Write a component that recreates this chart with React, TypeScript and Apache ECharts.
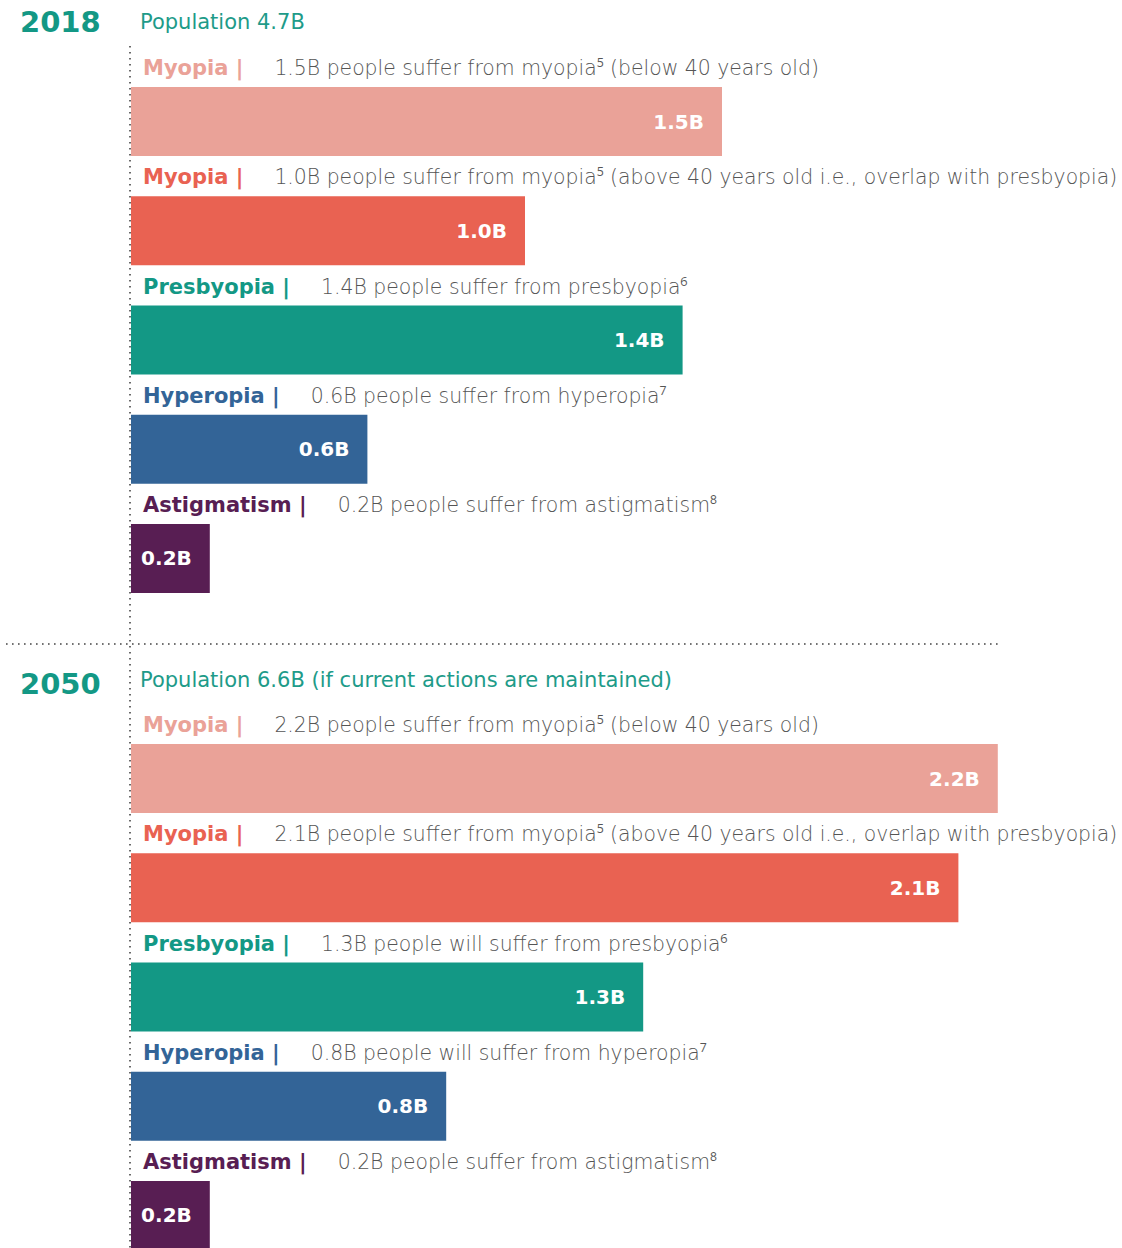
import React, { useEffect, useRef } from "react";
import * as echarts from "echarts";

const categories = ["Myopia", "Myopia", "Presbyopia", "Hyperopia", "Astigmatism"];
const colors = ["#EAA298", "#E96252", "#139885", "#336497", "#581E53"];
const values2018 = [1.5, 1.0, 1.4, 0.6, 0.2];
const values2050 = [2.2, 2.1, 1.3, 0.8, 0.2];
const valueLabels2018 = ["1.5B", "1.0B", "1.4B", "0.6B", "0.2B"];
const valueLabels2050 = ["2.2B", "2.1B", "1.3B", "0.8B", "0.2B"];
const desc2018 = [
  "1.5B people suffer from myopia\u2075 (below 40 years old)",
  "1.0B people suffer from myopia\u2075 (above 40 years old i.e., overlap with presbyopia)",
  "1.4B people suffer from presbyopia\u2076",
  "0.6B people suffer from hyperopia\u2077",
  "0.2B people suffer from astigmatism\u2078",
];
const desc2050 = [
  "2.2B people suffer from myopia\u2075 (below 40 years old)",
  "2.1B people suffer from myopia\u2075 (above 40 years old i.e., overlap with presbyopia)",
  "1.3B people will suffer from presbyopia\u2076",
  "0.8B people will suffer from hyperopia\u2077",
  "0.2B people suffer from astigmatism\u2078",
];
const years = ["2018", "2050"];
const populations = ["Population 4.7B", "Population 6.6B (if current actions are maintained)"];

const FONT = "'DejaVu Sans', 'Noto Sans', sans-serif";

function barSeries(gridIdx: number, values: number[], labels: string[]) {
  return {
    type: "bar",
    xAxisIndex: gridIdx,
    yAxisIndex: gridIdx,
    barWidth: 69,
    barGap: "-100%",
    silent: true,
    data: values.map((v, i) => ({
      value: v,
      itemStyle: { color: colors[i] },
      label: {
        show: true,
        position: "insideRight",
        distance: 18,
        formatter: labels[i],
        color: "#ffffff",
        fontFamily: FONT,
        fontWeight: "bold",
        fontSize: 20,
      },
    })),
  };
}

function headerSeries(gridIdx: number, values: number[], descs: string[]) {
  return {
    type: "bar",
    xAxisIndex: gridIdx,
    yAxisIndex: gridIdx,
    barWidth: 69,
    barGap: "-100%",
    silent: true,
    z: 3,
    data: values.map((v, i) => ({
      value: v,
      itemStyle: { color: "rgba(0,0,0,0)" },
      label: {
        show: true,
        position: [12, -19],
        align: "left",
        verticalAlign: "middle",
        formatter: `{h|${categories[i]} |}{d|${descs[i]}}`,
        rich: {
          h: {
            color: colors[i],
            fontFamily: FONT,
            fontWeight: "bold",
            fontSize: 21,
            padding: [0, 31, 0, 0],
          },
          d: {
            color: "#555555",
            fontFamily: FONT,
            fontWeight: 300,
            fontSize: 20.4,
          },
        },
      },
    })),
  };
}

export default function App() {
  const ref = useRef<HTMLDivElement>(null);
  useEffect(() => {
    if (!ref.current) return;
    const chart = echarts.init(ref.current, null, { renderer: "svg" });
    const yAxisBase = {
      type: "category",
      data: categories,
      inverse: true,
      axisLine: { show: false },
      axisTick: { show: false },
      axisLabel: { show: false },
    };
    const xAxisBase = {
      type: "value",
      min: 0,
      max: 2.5,
      show: false,
    };
    const dotted = { stroke: "#444", lineWidth: 1.6, lineDash: [1.6, 4.4] };
    chart.setOption({
      animation: false,
      grid: [
        { left: 131, top: 67, width: 985, height: 546, outerBoundsMode: "none" },
        { left: 131, top: 724, width: 985, height: 546, outerBoundsMode: "none" },
      ],
      xAxis: [
        { ...xAxisBase, gridIndex: 0 },
        { ...xAxisBase, gridIndex: 1 },
      ],
      yAxis: [
        { ...yAxisBase, gridIndex: 0 },
        { ...yAxisBase, gridIndex: 1 },
      ],
      series: [
        barSeries(0, values2018, valueLabels2018),
        headerSeries(0, values2018, desc2018),
        barSeries(1, values2050, valueLabels2050),
        headerSeries(1, values2050, desc2050),
      ],
      graphic: [
        { type: "line", shape: { x1: 130, y1: 46, x2: 130, y2: 1248 }, style: dotted, z: 10 },
        { type: "line", shape: { x1: 6, y1: 644, x2: 1002, y2: 644 }, style: dotted, z: 10 },
        {
          type: "text", x: 20, y: 22,
          style: { text: years[0], fill: "#139885", font: `bold 29px ${FONT}`, verticalAlign: "middle" },
        },
        {
          type: "text", x: 140, y: 22,
          style: { text: populations[0], fill: "#1E9B89", font: `21px ${FONT}`, verticalAlign: "middle" },
        },
        {
          type: "text", x: 20, y: 684,
          style: { text: years[1], fill: "#139885", font: `bold 29px ${FONT}`, verticalAlign: "middle" },
        },
        {
          type: "text", x: 140, y: 680,
          style: { text: populations[1], fill: "#1E9B89", font: `21px ${FONT}`, verticalAlign: "middle" },
        },
      ],
    });
    return () => chart.dispose();
  }, []);
  return (
    <div
      ref={ref}
      style={{ position: "absolute", left: 0, top: 0, width: 1122, height: 1248, background: "#fff" }}
    />
  );
}
